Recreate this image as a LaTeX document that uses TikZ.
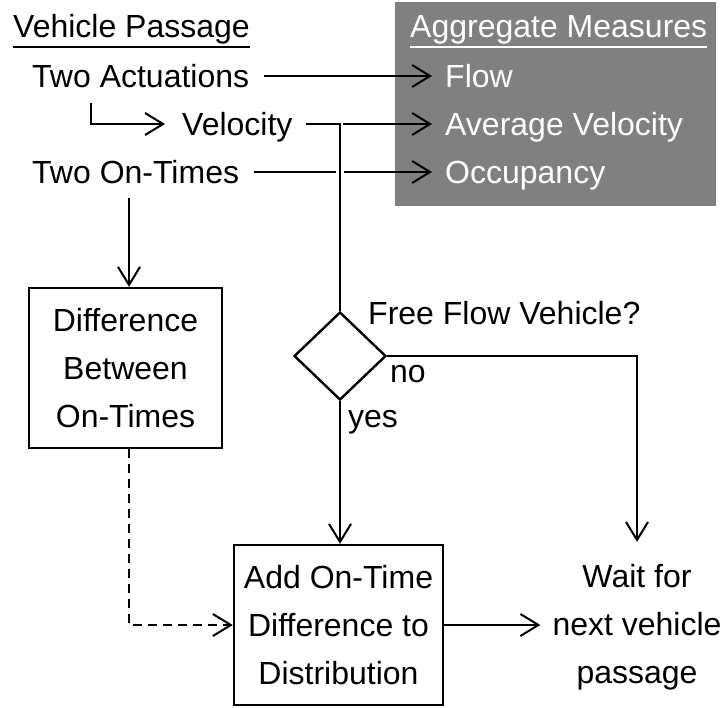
\documentclass[tikz,border=0pt]{standalone}
\usepackage{fontspec}
\setmainfont{Liberation Sans}
\usetikzlibrary{arrows.meta,shapes.geometric}
\definecolor{agggray}{HTML}{808080}
\begin{document}
\begin{tikzpicture}[x=1pt,y=-1pt,
  every node/.style={font=\fontsize{32}{48}\selectfont, inner sep=0pt},
  txt/.style={anchor=base west},
  wtxt/.style={anchor=base west, text=white},
  plain/.style={line width=2pt},
  conn/.style={line width=2pt, -{Straight Barb[length=18pt,width=22pt]}},
  dconn/.style={conn, dash pattern=on 9pt off 6pt},
  procbox/.style={draw, line width=2.4pt, align=center},
  ulineb/.style={line width=2pt},
  ulinew/.style={line width=2pt, white}
]
\useasboundingbox (0,0) rectangle (727,707);
\fill[agggray] (395,2) rectangle (716,206);

% headings
\node[txt] (vp) at (13,37) {Vehicle Passage};
\draw[ulineb] ([yshift=-10pt]vp.base west) -- ([yshift=-10pt]vp.base east);
\node[wtxt] (am) at (410,37) {Aggregate Measures};
\draw[ulinew] ([yshift=-10pt]am.base west) -- ([yshift=-10pt]am.base east);

% inputs
\node[txt] (ta) at (32,87) {Two Actuations};
\node[txt] (vel) at (182,135) {Velocity};
\node[txt] (ot) at (32,183) {Two On-Times};

% outputs
\node[wtxt] (flow) at (445,87) {Flow};
\node[wtxt] (avg) at (445,135) {Average Velocity};
\node[wtxt] (occ) at (445,183) {Occupancy};

% boxes
\node[procbox, minimum width=193pt, minimum height=160pt] (b1) at (125.5,368)
  {Difference\\Between\\On-Times};
\node[diamond, draw, line width=2.4pt, minimum width=92pt, minimum height=88pt] (dia) at (340,356) {};
\node[txt] (ffv) at (368,324) {Free Flow Vehicle?};
\node[txt] (no) at (390,382) {no};
\node[txt] (yes) at (348,427) {yes};
\node[procbox, minimum width=209pt, minimum height=160pt] (b2) at (338.5,625)
  {Add On-Time\\Difference to\\Distribution};
\node[align=center] (wait) at (637,627) {Wait for\\next vehicle\\passage};

% helper coordinates
\coordinate (lstart) at (91,103);
\coordinate (j) at (340,124);
\coordinate (cross1) at (336,172);
\coordinate (cross2) at (344,172);
\coordinate (otd) at (129,198);
\path ([xshift=-12pt]wait.west) coordinate (wtip);

% connectors
\draw[conn] ([shift={(15pt,11pt)}]ta.base east) -- ([shift={(-13pt,11pt)}]flow.base west);
\draw[conn] (lstart) |- ([shift={(-17pt,11pt)}]vel.base west);
\draw[plain] ([shift={(13pt,11pt)}]vel.base east) -| (dia.north);
\draw[conn] ([xshift=3pt]j) -- ([shift={(-13pt,11pt)}]avg.base west);
\draw[plain] ([shift={(15pt,11pt)}]ot.base east) -- (cross1);
\draw[conn] (cross2) -- ([shift={(-13pt,11pt)}]occ.base west);
\draw[conn] (otd) -- (otd |- b1.north);
\draw[dconn] (otd |- b1.south) |- (b2.west);
\draw[conn] (dia.south) -- (dia.south |- b2.north);
\draw[conn] (dia.east) -| ([yshift=22pt]wait.north);
\draw[conn] (b2.east) -- (b2.east -| wtip);
\end{tikzpicture}
\end{document}
